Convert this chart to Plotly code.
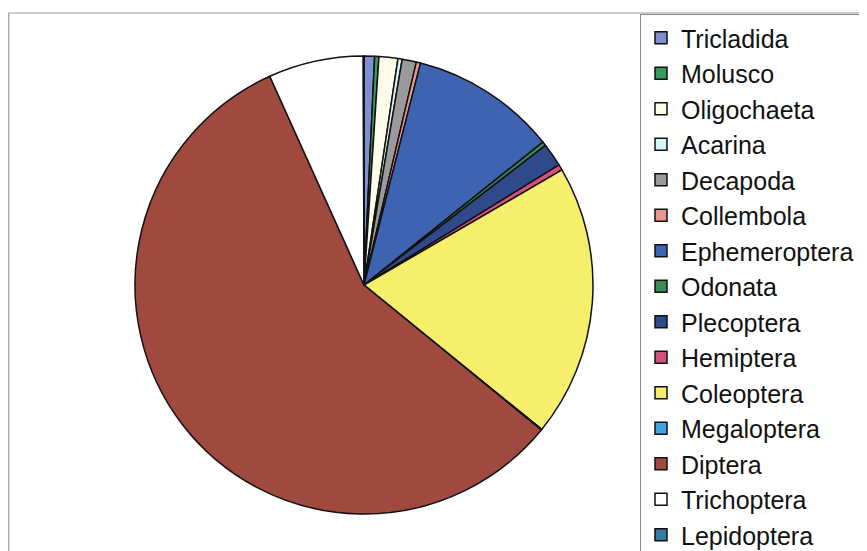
import plotly.graph_objects as go

labels = ["Tricladida", "Molusco", "Oligochaeta", "Acarina", "Decapoda", "Collembola",
          "Ephemeroptera", "Odonata", "Plecoptera", "Hemiptera", "Coleoptera",
          "Megaloptera", "Diptera", "Trichoptera", "Lepidoptera"]
values = [0.74, 0.3, 1.33, 0.3, 1.0, 0.3,
          10.3, 0.3, 1.65, 0.4, 19.24,
          0.05, 57.34, 6.7, 0.05]
colors = ["#7f8fd2", "#3a9a5e", "#fbfbe8", "#d6f3f8", "#9a9a9a", "#ea9494",
          "#3e63b0", "#3a8a5c", "#2e4a8a", "#d2527e", "#f6ef6c",
          "#3fa6e6", "#a0493f", "#ffffff", "#2f7c9c"]

W, H = 867, 551
OFF = 8  # page body margin offset
cx, cy, r = 364 - OFF, 285 - OFF, 229

fig = go.Figure(go.Pie(
    labels=labels, values=values, sort=False, direction="clockwise", rotation=0,
    marker=dict(colors=colors, line=dict(color="#111111", width=1.5)),
    textinfo="none", hoverinfo="label+percent",
    domain=dict(x=[(cx - r) / W, (cx + r) / W], y=[(H - cy - r) / H, (H - cy + r) / H]),
))

fig.update_layout(
    width=W, height=H, autosize=False,
    margin=dict(l=0, r=0, t=0, b=0),
    paper_bgcolor="white", plot_bgcolor="white",
    font=dict(family="Liberation Sans, Arial, sans-serif", color="#111111"),
    legend=dict(
        x=(640 - OFF) / W, y=1 - (21 - OFF) / H, xanchor="left", yanchor="top",
        font=dict(size=25, family="Liberation Sans, Arial, sans-serif", color="#111111"),
        bordercolor="#888888", borderwidth=1, bgcolor="white",
        traceorder="normal",
    ),
    shapes=[
        dict(type="rect", xref="paper", yref="paper",
             x0=0.8 / W, x1=1.01, y0=-0.01, y1=1 - (13 - OFF) / H,
             line=dict(color="#9a9a9a", width=1.2), layer="below"),
    ],
)

fig.write_html("out.html")
